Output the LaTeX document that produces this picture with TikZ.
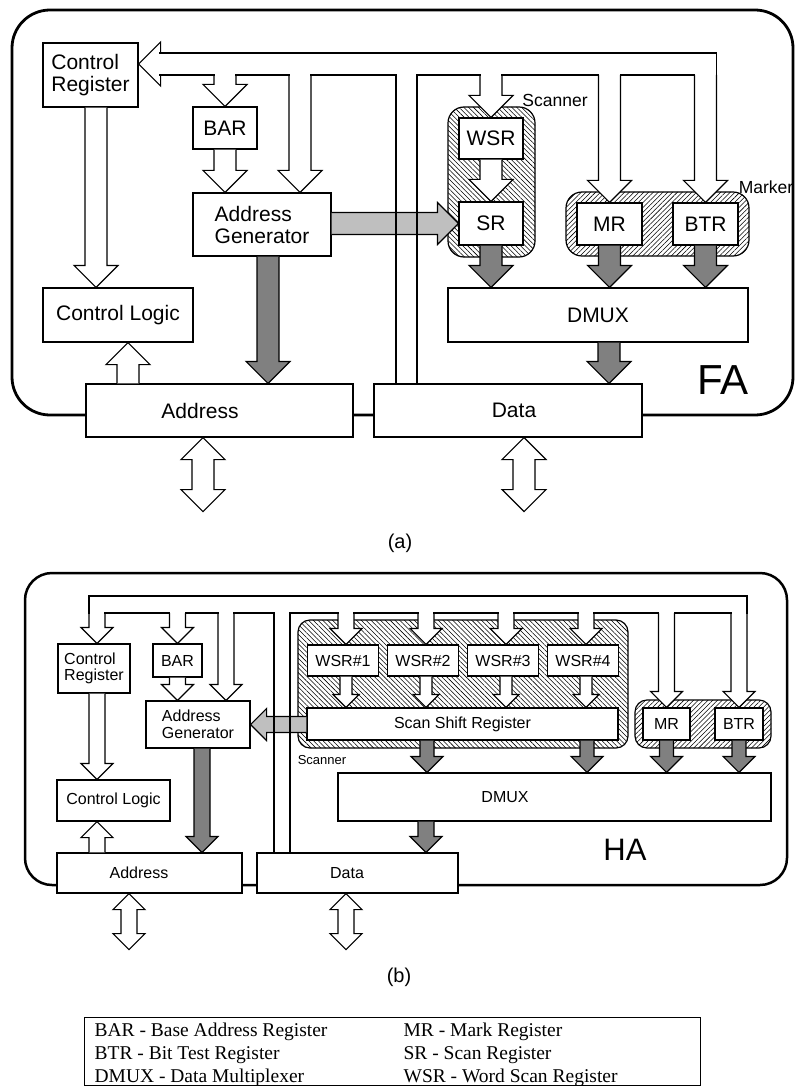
\documentclass[tikz,border=0pt]{standalone}
\usepackage{fontspec}
\setmainfont{Liberation Serif}
\setsansfont{Liberation Sans}
\usetikzlibrary{calc, patterns.meta}

% block arrows, open at the tail: [fill]{tail}{tip}{half shaft}{half head}
\newcommand{\vblk}[5][white]{%
  \draw[fill=#1] let \p1=#2, \p2=#3, \n1={\y2-#5*sign(\y2-\y1)} in
    (\x2-#4,\y1) -- (\x2-#4,\n1) -- (\x2-#5,\n1) -- (\x2,\y2)
    -- (\x2+#5,\n1) -- (\x2+#4,\n1) -- (\x2+#4,\y1);}
\newcommand{\hblk}[5][white]{%
  \draw[fill=#1] let \p1=#2, \p2=#3, \n1={\x2-#5*sign(\x2-\x1)} in
    (\x1,\y2-#4) -- (\n1,\y2-#4) -- (\n1,\y2-#5) -- (\x2,\y2)
    -- (\n1,\y2+#5) -- (\n1,\y2+#4) -- (\x1,\y2+#4);}
% two-way block arrow hanging below a bus box: {top}{length}{half shaft}{half head}
\newcommand{\dblk}[4]{%
  \draw[fill=white] let \p1=#1 in
    (\x1,\y1) -- (\x1+#4,\y1-#4) -- (\x1+#3,\y1-#4) -- (\x1+#3,\y1-#2+#4)
    -- (\x1+#4,\y1-#2+#4) -- (\x1,\y1-#2) -- (\x1-#4,\y1-#2+#4)
    -- (\x1-#3,\y1-#2+#4) -- (\x1-#3,\y1-#4) -- (\x1-#4,\y1-#4) -- cycle;}

\begin{document}
\begin{tikzpicture}[
        x=1pt, y=-1pt, line width=1.2pt,
        txt/.style={font=\sffamily\fontsize{21}{22}\selectfont, inner sep=0pt},
        stxt/.style={font=\sffamily\fontsize{16}{16.5}\selectfont, inner sep=0pt},
        box/.style={draw, fill=white, align=left, txt},
        sbox/.style={box, stxt},
        sz/.style 2 args={minimum width=#1pt, minimum height=#2pt},
        frame/.style={line width=2.8pt, rounded corners=38pt},
        scanzone/.style={draw, pattern={Lines[angle=-45, distance=3.4pt, line width=0.55pt]}, rounded corners=16pt},
        markzone/.style={draw, pattern={Lines[angle=45, distance=3.4pt, line width=0.55pt]}, rounded corners=16pt},
        pipe/.style={line cap=rect},
        legtxt/.style={font=\rmfamily\fontsize{19.5}{23}\selectfont, inner sep=0pt, anchor=base west}
    ]
    \useasboundingbox (0,0) rectangle (796,1086);

    % ================= (a) FA =================
    \draw[frame] (12,10) rectangle (793,415);
    \draw[scanzone] (448,107) rectangle (535,257);
    \draw[markzone] (566,192) rectangle (749,256);

    \node[box, sz={95}{64}] (creg) at (90.5,75) {Control\\Register};
    \node[box, sz={64}{42}] (bar) at (225,128) {BAR};
    \node[box, sz={138}{63}] (ag) at (262,224.5) {Address\\Generator};
    \node[box, sz={150}{54}] (clog) at (118,315) {Control Logic};
    \node[box, sz={267}{53}] (addr) at (219.5,410.5) {};
    \node[box, sz={268}{53}] (data) at (508,410.5) {};
    \node[box, sz={64}{41}] (wsr) at (491,138.5) {WSR};
    \node[box, sz={64}{43}] (sr) at (491,223.5) {SR};
    \node[box, sz={65}{42}] (mr) at (609.5,224) {MR};
    \node[box, sz={65}{42}] (btr) at (705.5,224) {BTR};
    \node[box, sz={300}{54}] (dmux) at (598,315) {DMUX};
    \node[txt] (addrtxt) at (200,410.5) {Address};
    \node[txt] (datatxt) at (514,410.5) {Data};

    % hollow arrows fed from the bus
    \hblk{(160,64)}{(creg.east |- 0,64)}{11}{22}
    \vblk{(0,75)}{(bar.north)}{11}{22}
    \vblk{(0,75)}{(300,0 |- ag.north)}{11}{22}
    \vblk{(0,75)}{(wsr.north)}{11}{22}
    \vblk{(0,75)}{(mr.north)}{11}{22}
    \vblk{(0,75)}{(btr.north)}{11}{22}
    \vblk{(bar.south)}{(bar.south |- ag.north)}{11}{22}
    \vblk{(wsr.south)}{(sr.north)}{11}{22}
    \vblk{(96,0 |- creg.south)}{(96,0 |- clog.north)}{11}{22}
    \vblk{(addr.north)}{(128,0 |- clog.south)}{11}{22}

    % data paths
    \vblk[gray]{(ag.south)}{(268,0 |- addr.north)}{11}{22}
    \vblk[gray]{(sr.south)}{(sr.south |- dmux.north)}{11}{22}
    \vblk[gray]{(mr.south)}{(mr.south |- dmux.north)}{11}{22}
    \vblk[gray]{(btr.south)}{(btr.south |- dmux.north)}{11}{22}
    \vblk[gray]{(dmux.south)}{(609,0 |- data.north)}{11}{22}
    \hblk[gray!50]{(ag.east)}{(sr.west)}{11}{21}
    \dblk{(203,0 |- addr.south)}{74}{11}{22}
    \dblk{(524,0 |- data.south)}{74}{11}{22}

    % bus walls
    \draw[pipe] (160,53) -- (716.5,53) -- (716.5,75);
    \draw[pipe] (160,75) -- (214,75);
    \draw[pipe] (236,75) -- (289,75);
    \draw[pipe] (311,75) -- (396,75) -- (396,0 |- data.north);
    \draw[pipe] (417,0 |- data.north) -- (417,75) -- (480,75);
    \draw[pipe] (502,75) -- (598.5,75);
    \draw[pipe] (620.5,75) -- (694.5,75);

    \node[font=\sffamily\fontsize{17.5}{18}\selectfont, inner sep=0pt] (scana) at (555,100) {Scanner};
    \node[font=\sffamily\fontsize{17.5}{18}\selectfont, inner sep=0pt] (marka) at (766,187) {Marker};
    \node[font=\sffamily\fontsize{42}{42}\selectfont, inner sep=0pt] (fa) at (723,380) {FA};
    \node[font=\sffamily\fontsize{20}{20}\selectfont, inner sep=0pt] (capa) at (400,543) {(a)};

    % ================= (b) HA =================
    \draw[frame, line width=2.5pt, rounded corners=27pt] (25,573) rectangle (787,885);
    \draw[scanzone, rounded corners=12pt] (298,620) rectangle (628,748);
    \draw[markzone, rounded corners=12pt] (635,700) rectangle (771,748);

    \node[sbox, sz={72}{49}] (creg2) at (94,668.5) {Control\\Register};
    \node[sbox, sz={49}{33}] (bar2) at (177.5,660.5) {BAR};
    \node[sbox, sz={104}{47}] (ag2) at (198,724.5) {Address\\Generator};
    \node[sbox, sz={113}{41}] (clog2) at (113.5,800.5) {Control Logic};
    \node[sbox, sz={185}{40}] (addr2) at (149.5,873) {};
    \node[sbox, sz={201}{40}] (data2) at (357.5,873) {};
    \foreach \i/\cx in {1/343, 2/423, 3/503, 4/583}
        \node[sbox, sz={71}{31}] (w\i) at (\cx,660.5) {WSR\#\i};
    \node[sbox, sz={311}{32}] (ssr) at (462.5,724) {Scan Shift Register};
    \node[sbox, sz={47}{32}] (mr2) at (666.5,724) {MR};
    \node[sbox, sz={48}{32}] (btr2) at (739,724) {BTR};
    \node[sbox, sz={433}{48}] (dmux2) at (554.5,797) {};
    \node[stxt] (addr2txt) at (139,873) {Address};
    \node[stxt] (data2txt) at (347,873) {Data};
    \node[stxt] (dmux2txt) at (505,797) {DMUX};

    % hollow arrows fed from the bus
    \vblk{(0,613)}{(97,0 |- creg2.north)}{8}{16}
    \vblk{(0,613)}{(bar2.north)}{8}{16}
    \vblk{(0,613)}{(226,0 |- ag2.north)}{8}{16}
    \foreach \i/\cx in {1/346, 2/426, 3/506, 4/586} {
        \vblk{(0,613)}{(\cx,0 |- w\i.north)}{8}{16}
        \vblk{(w\i.south)}{(\cx,0 |- ssr.north)}{6}{13}
    }
    \vblk{(0,613)}{(mr2.north)}{8}{16}
    \vblk{(0,613)}{(btr2.north)}{8}{16}
    \vblk{(creg2.south)}{(97,0 |- clog2.north)}{8}{16}
    \vblk{(bar2.south)}{(bar2.south |- ag2.north)}{8}{16}
    \vblk{(addr2.north)}{(97,0 |- clog2.south)}{8}{16}

    % data paths
    \vblk[gray]{(ag2.south)}{(202,0 |- addr2.north)}{8}{16}
    \vblk[gray]{(ssr.south)}{(427,0 |- dmux2.north)}{7}{16}
    \vblk[gray]{(ssr.south)}{(587,0 |- dmux2.north)}{7}{16}
    \vblk[gray]{(mr2.south)}{(mr2.south |- dmux2.north)}{7}{16}
    \vblk[gray]{(btr2.south)}{(btr2.south |- dmux2.north)}{7}{16}
    \vblk[gray]{(dmux2.south)}{(426,0 |- data2.north)}{8}{16}
    \hblk[gray!50]{(ssr.west)}{(ag2.east)}{8}{16}
    \dblk{(129,0 |- addr2.south)}{56}{8}{16}
    \dblk{(346,0 |- data2.south)}{56}{8}{16}

    % bus walls
    \draw[pipe] (89,613) -- (89,596) -- (747,596) -- (747,613);
    \draw[pipe] (105,613) -- (169.5,613);
    \draw[pipe] (185.5,613) -- (218,613);
    \draw[pipe] (234,613) -- (274,613) -- (274,0 |- data2.north);
    \draw[pipe] (290,0 |- data2.north) -- (290,613) -- (338,613);
    \draw[pipe] (354,613) -- (418,613);
    \draw[pipe] (434,613) -- (498,613);
    \draw[pipe] (514,613) -- (578,613);
    \draw[pipe] (594,613) -- (658.5,613);
    \draw[pipe] (674.5,613) -- (731,613);

    \node[font=\sffamily\fontsize{13}{13}\selectfont, inner sep=0pt] (scanb) at (322,760) {Scanner};
    \node[font=\sffamily\fontsize{31}{31}\selectfont, inner sep=0pt] (ha) at (625,850) {HA};
    \node[font=\sffamily\fontsize{20}{20}\selectfont, inner sep=0pt] (capb) at (399,977) {(b)};

    % ================= legend =================
    \node[draw, sz={616}{68}, anchor=north west, inner sep=0pt] (legend) at (84,1017) {};
    \foreach \i/\lt/\rt in {
        1/{BAR - Base Address Register}/{MR - Mark Register},
        2/{BTR - Bit Test Register}/{SR - Scan Register},
        3/{DMUX - Data Multiplexer}/{WSR - Word Scan Register}}
    {
        \node[legtxt] (legl\i) at (94,1013+23*\i) {\lt};
        \node[legtxt] (legr\i) at (403,1013+23*\i) {\rt};
    }
\end{tikzpicture}
\end{document}
